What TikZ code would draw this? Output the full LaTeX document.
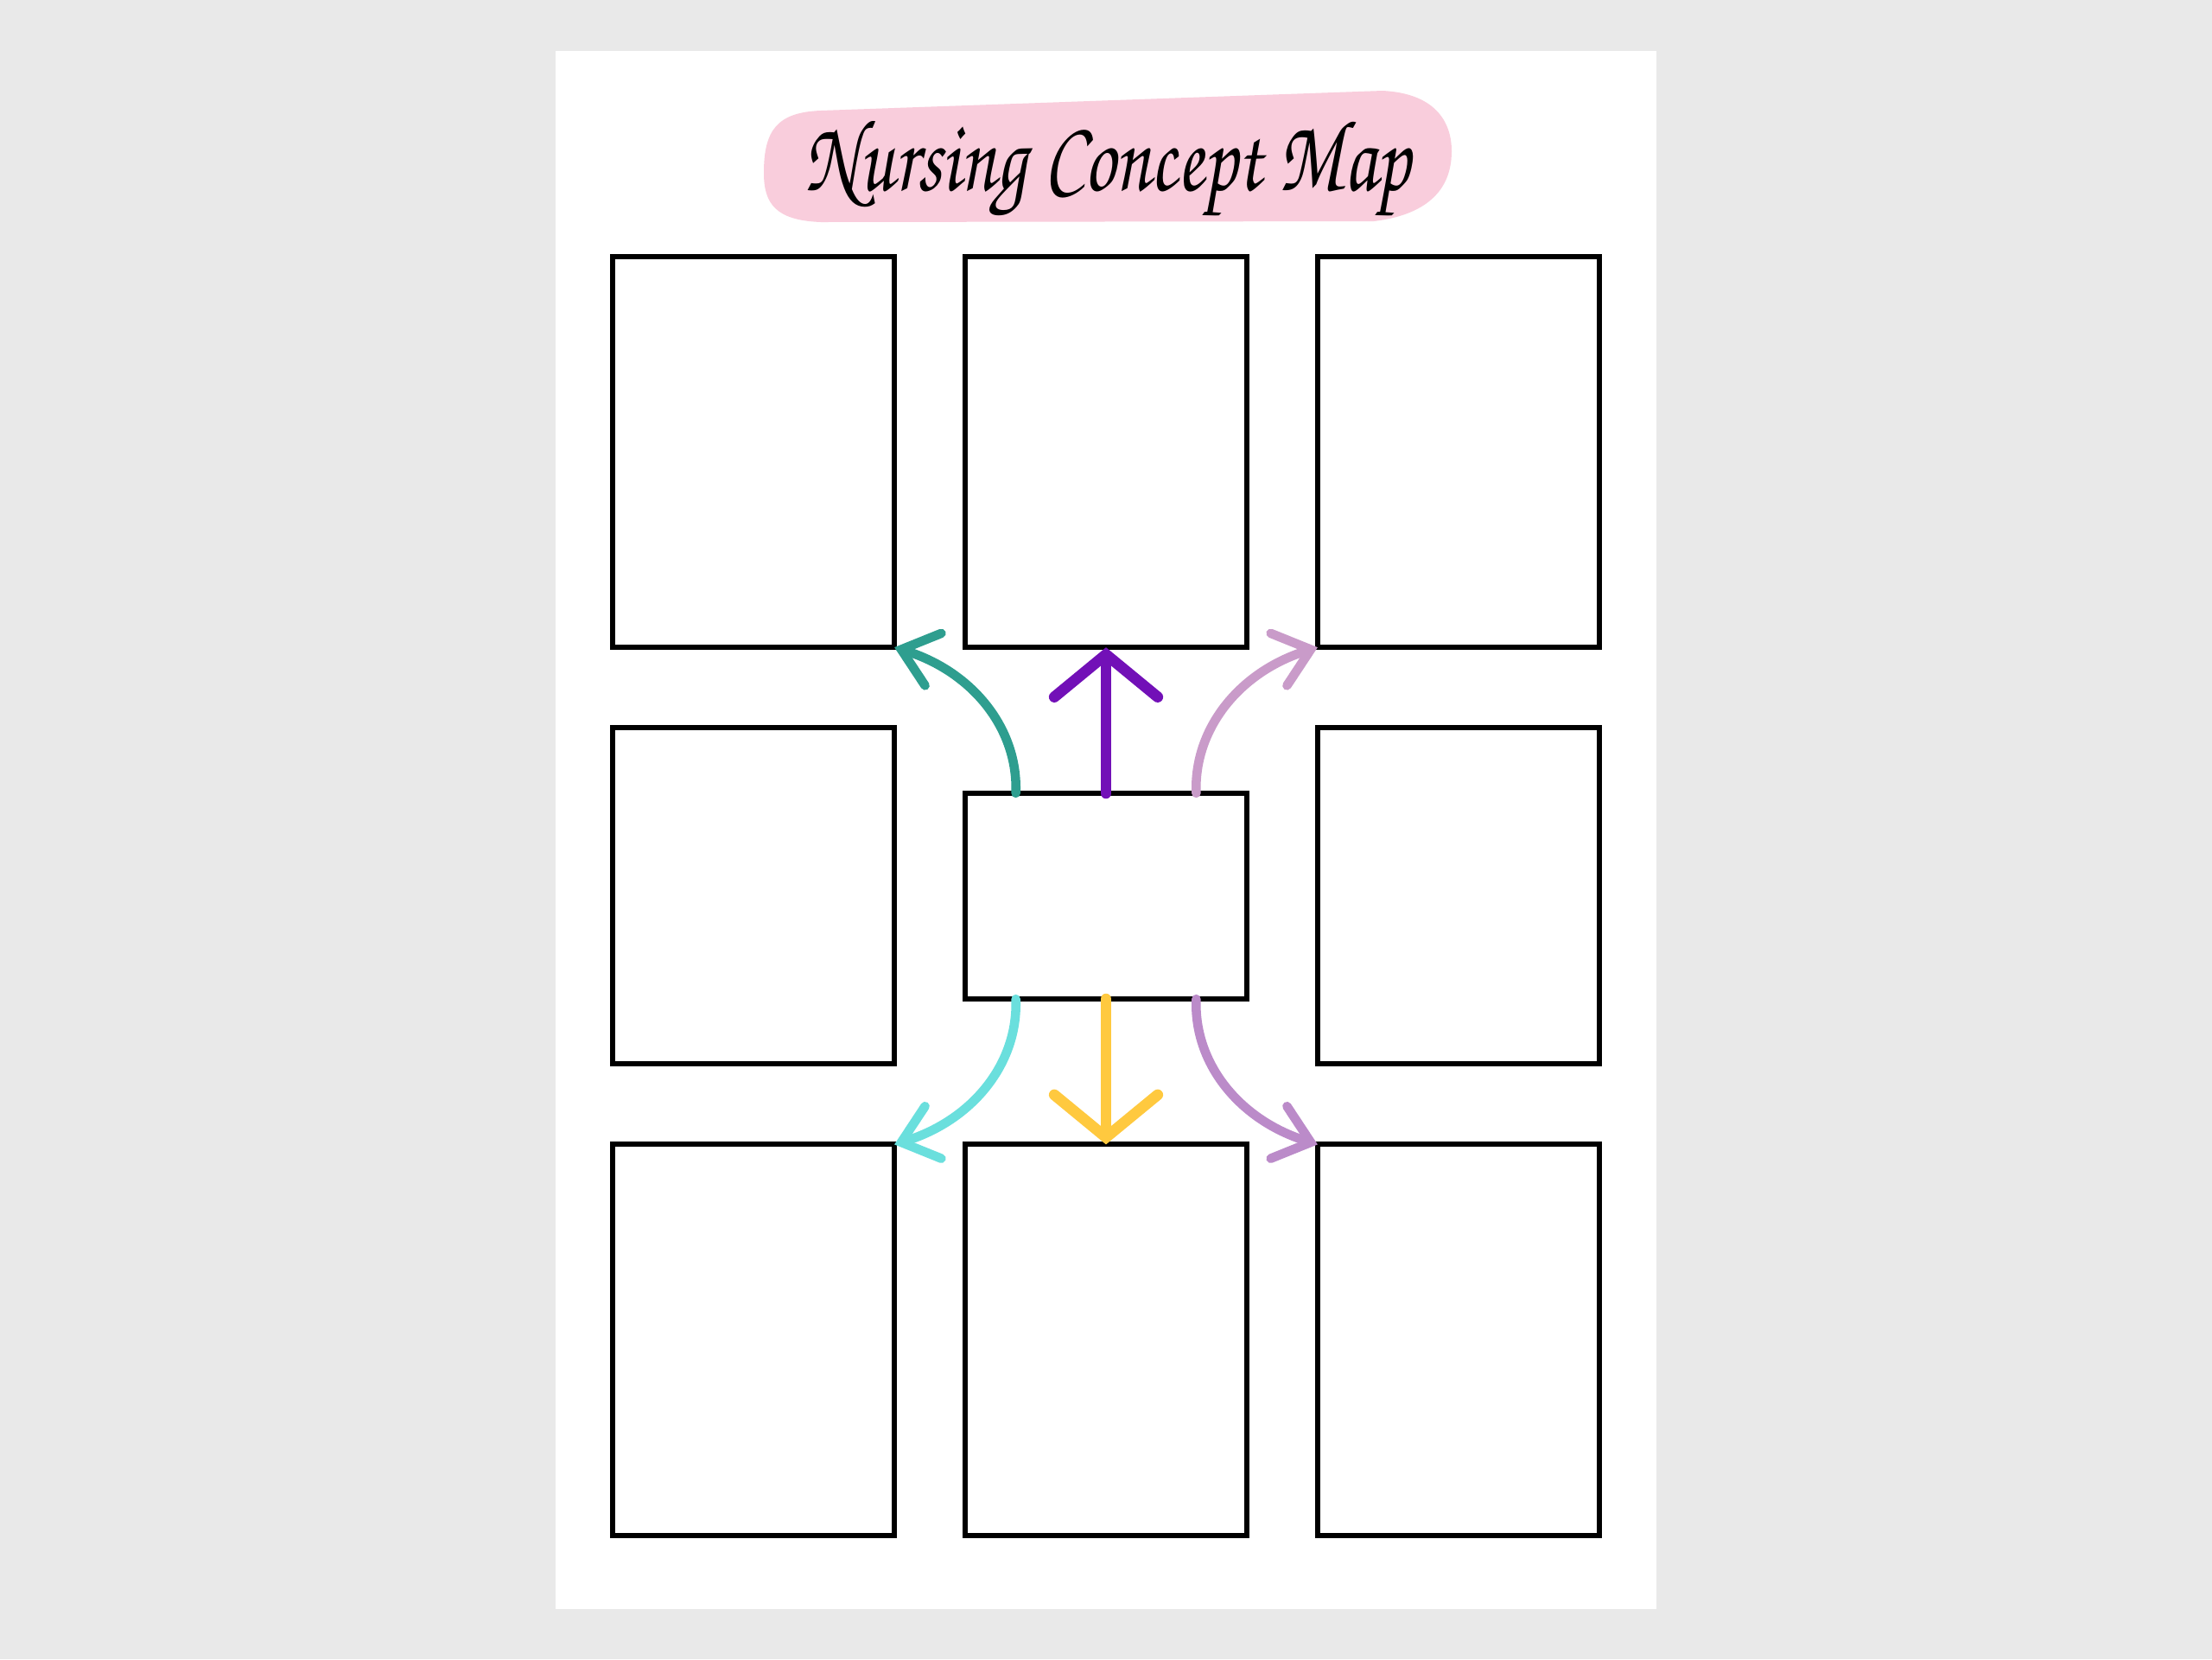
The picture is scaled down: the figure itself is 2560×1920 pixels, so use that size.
\documentclass[tikz,border=0pt]{standalone}
\usepackage{fontspec}
\usepackage{xcolor}
\newfontfamily\chorus{TeX Gyre Chorus}
\usetikzlibrary{arrows.meta,positioning,calc}

\definecolor{wallgray}{HTML}{E9E9E9}
\definecolor{titlepink}{HTML}{F9CDDC}
\definecolor{arrowteal}{HTML}{2E9E8F}
\definecolor{arrowpurple}{HTML}{7210B7}
\definecolor{arrowlilac}{HTML}{C99BC9}
\definecolor{arrowcyan}{HTML}{6ADFDD}
\definecolor{arrowyellow}{HTML}{FFC93F}
\definecolor{arrowmauve}{HTML}{BB8BC9}

\begin{document}
\begin{tikzpicture}[x=0.01cm, y=-0.01cm,
  box/.style={draw, line width=1.7pt, rectangle, inner sep=0pt, outer sep=0pt, minimum width=3.26cm},
  tallbox/.style={box, minimum height=4.52cm},
  sidebox/.style={box, minimum height=3.89cm},
  mainbox/.style={box, minimum height=2.38cm},
  bigarrow/.style={line width=3.6pt, line cap=round, -{Straight Barb[length=14pt, width=34pt, line cap=round]}},
  curvearrow/.style={line width=3pt, line cap=round, -{Straight Barb[length=11pt, width=18pt, line cap=round]}}]

% Wall and sheet
\fill[wallgray] (0,0) rectangle (2560,1920);
\fill[white] (643,59) rectangle (1917,1862);

% Title
\fill[titlepink] (950,128) -- (1600,105) .. controls (1660,108) and (1680,140) .. (1680,175)
  .. controls (1680,228) and (1640,250) .. (1590,256) -- (950,257)
  .. controls (898,255) and (884,236) .. (884,200) .. controls (884,150) and (900,130) .. (950,128) -- cycle;
\node[anchor=base] (title) at (1282,220) {\resizebox{7cm}{0.8cm}{\chorus Nursing Concept Map}};

% Boxes
\node[tallbox] (tl) at (872,523) {};
\node[tallbox] (tm) at (1280,523) {};
\node[tallbox] (tr) at (1688,523) {};
\node[sidebox] (ml) at (872,1036.5) {};
\node[mainbox] (c) at (1280,1037) {};
\node[sidebox] (mr) at (1688,1036.5) {};
\node[tallbox] (bl) at (872,1550.5) {};
\node[tallbox] (bm) at (1280,1550.5) {};
\node[tallbox] (br) at (1688,1550.5) {};

% Straight arrows
\draw[bigarrow, arrowpurple] (c.north) -- (tm.south);
\draw[bigarrow, arrowyellow] (c.south) -- (bm.north);

% Curved arrows
\draw[curvearrow, arrowteal] ($(c.north west)!0.18!(c.north east)$) .. controls +(3,-75) and +(90,28) .. (tl.south east);
\draw[curvearrow, arrowlilac] ($(c.north west)!0.82!(c.north east)$) .. controls +(-3,-75) and +(-90,28) .. (tr.south west);
\draw[curvearrow, arrowcyan] ($(c.south west)!0.18!(c.south east)$) .. controls +(3,75) and +(90,-28) .. (bl.north east);
\draw[curvearrow, arrowmauve] ($(c.south west)!0.82!(c.south east)$) .. controls +(-3,75) and +(-90,-28) .. (br.north west);

\end{tikzpicture}
\end{document}
